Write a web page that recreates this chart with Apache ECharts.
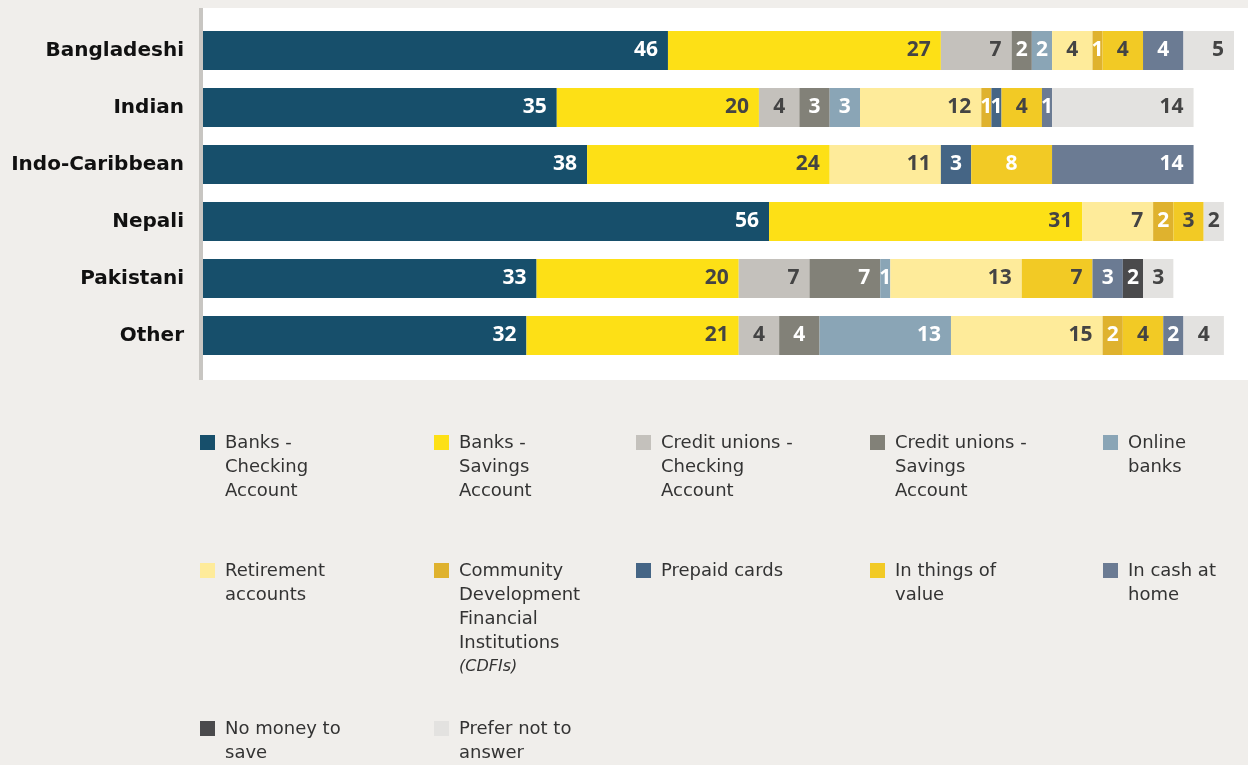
<!DOCTYPE html>
<html><head><meta charset="utf-8">
<script src="https://cdn.jsdelivr.net/npm/echarts@6/dist/echarts.min.js"></script>
<style>html,body{margin:0;background:#f0eeeb}#c{width:1248px;height:765px}</style>
</head><body><div id="c"></div>
<script>
var categories = ['Bangladeshi', 'Indian', 'Indo-Caribbean', 'Nepali', 'Pakistani', 'Other'];
var seriesNames = ['Banks - Checking Account', 'Banks - Savings Account', 'Credit unions - Checking Account',
  'Credit unions - Savings Account', 'Online banks', 'Retirement accounts',
  'Community Development Financial Institutions (CDFIs)', 'Prepaid cards', 'In things of value',
  'In cash at home', 'No money to save', 'Prefer not to answer'];
var bankChecking = [46, 35, 38, 56, 33, 32];
var bankSavings = [27, 20, 24, 31, 20, 21];
var cuChecking = [7, 4, 0, 0, 7, 4];
var cuSavings = [2, 3, 0, 0, 7, 4];
var online = [2, 3, 0, 0, 1, 13];
var retirement = [4, 12, 11, 7, 13, 15];
var cdfi = [1, 1, 0, 2, 0, 2];
var prepaid = [0, 1, 3, 0, 0, 0];
var things = [4, 4, 8, 3, 7, 4];
var cash = [4, 1, 14, 0, 3, 2];
var noMoney = [0, 0, 0, 0, 2, 0];
var preferNot = [5, 14, 0, 2, 3, 4];
var allValues = [bankChecking, bankSavings, cuChecking, cuSavings, online, retirement, cdfi, prepaid, things, cash, noMoney, preferNot];

var colors = ['#174f6b', '#fde016', '#c4c1bc', '#828178', '#8aa5b6', '#feeb9a', '#dfb22e', '#456585', '#f2ca25', '#6b7b93', '#4a4a4c', '#e3e2e0'];
var labelColors = ['#fff', '#444', '#444', '#fff', '#fff', '#444', '#fff', '#fff', '#444', '#fff', '#fff', '#444'];
var legendText = ['Banks -\nChecking\nAccount', 'Banks -\nSavings\nAccount', 'Credit unions -\nChecking\nAccount',
  'Credit unions -\nSavings\nAccount', 'Online\nbanks', 'Retirement\naccounts',
  'Community\nDevelopment\nFinancial\nInstitutions\n{i|(CDFIs)}', 'Prepaid cards', 'In things of\nvalue',
  'In cash at\nhome', 'No money to\nsave', 'Prefer not to\nanswer'];
var legendPos = [[200, 433], [434, 433], [636, 433], [870, 433], [1103, 433],
  [200, 561], [434, 561], [636, 561], [870, 561], [1103, 561], [200, 719], [434, 719]];

var chart = echarts.init(document.getElementById('c'));
var series = seriesNames.map(function(n, i) {
  return {
    name: n, type: 'bar', stack: 'all', barWidth: 39,
    itemStyle: {color: colors[i]},
    label: {show: true, position: 'insideRight', distance: 10, color: labelColors[i],
      fontFamily: 'Open Sans', fontWeight: 'bold', fontSize: 21,
      formatter: function(p) { return p.value ? p.value : ''; }},
    data: allValues[i].map(function(v) {
      return v <= 4 ? {value: v, label: {position: 'inside'}} : v;
    })
  };
});
series[8].data[2] = {value: things[2], label: {color: '#fff', position: 'inside'}};

var legends = seriesNames.map(function(n, i) {
  return {
    data: [n], left: legendPos[i][0], top: legendPos[i][1] + 2, padding: 0,
    icon: 'rect', itemWidth: 15, itemHeight: 15, selectedMode: false,
    formatter: function() { return ''; }
  };
});
var texts = legendText.map(function(t, i) {
  return {type: 'text', left: legendPos[i][0] + 25, top: legendPos[i][1] - 2,
    style: {text: t, fill: '#333', font: '18px "DejaVu Sans"', lineHeight: 24,
      rich: {i: {fontStyle: 'italic', fontSize: 16, fontFamily: 'DejaVu Sans', fill: '#333', lineHeight: 24}}}};
});

chart.setOption({
  backgroundColor: '#f0eeeb',
  animation: false,
  graphic: [
    {type: 'rect', z: -10, shape: {x: 200, y: 8, width: 1048, height: 372}, style: {fill: '#fff'}},
    {type: 'rect', z: 10, shape: {x: 199, y: 8, width: 4, height: 372}, style: {fill: '#c8c6c2'}}
  ].concat(texts),
  grid: {left: 203, right: 14, top: 22, height: 342},
  xAxis: {type: 'value', min: 0, max: 102, show: false},
  yAxis: {type: 'category', data: categories, inverse: true,
    axisLine: {show: false}, axisTick: {show: false},
    axisLabel: {fontFamily: 'DejaVu Sans', fontWeight: 'bold', fontSize: 20, color: '#111', margin: 19}},
  legend: legends,
  series: series
});
</script></body></html>
